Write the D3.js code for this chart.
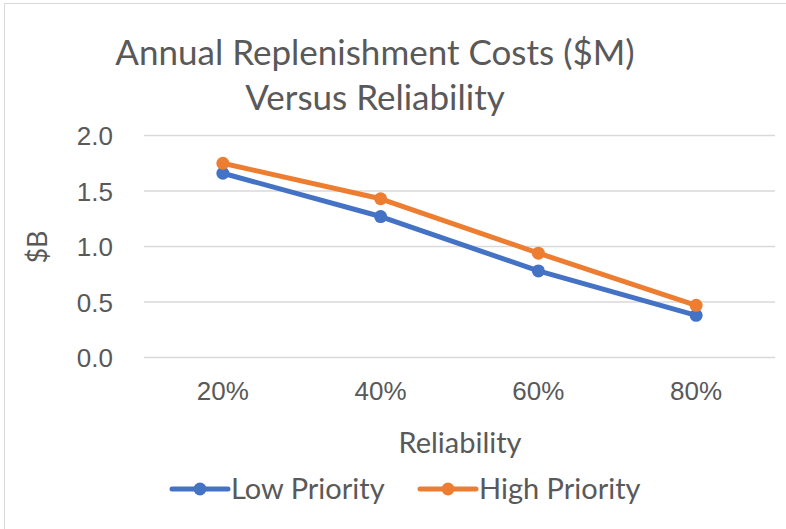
<!DOCTYPE html>
<html lang="en">
<head>
<meta charset="UTF-8">
<title>Annual Replenishment Costs</title>
<script src="https://d3js.org/d3.v7.min.js"></script>
<style>
    body { margin: 0; padding: 0; background: #fff; }
    svg { display: block; font-family: Lato, "Open Sans", sans-serif; }
    .tick text { fill: #595959; }
</style>
</head>
<body>
<svg id="chart" width="786" height="529"></svg>
<script>
// chart data
const categories = ["20%", "40%", "60%", "80%"];
const lowPriority = [1.66, 1.27, 0.78, 0.38];
const highPriority = [1.75, 1.43, 0.94, 0.47];
const yTicks = [0, 0.5, 1.0, 1.5, 2.0];
const seriesNames = ["Low Priority", "High Priority"];
const seriesColors = ["#4472C4", "#ED7D31"];

const svg = d3.select('#chart');
const textColor = "#595959";

// outer frame of the chart
svg.append('rect')
    .attr('x', 4.5).attr('y', 3.5)
    .attr('width', 800).attr('height', 540)
    .attr('fill', 'none')
    .attr('stroke', '#d9d9d9');

const margin = { left: 144, right: 11, top: 135.5, bottom: 171.5 };
const width = 786 - margin.left - margin.right;
const height = 529 - margin.top - margin.bottom;

const g = svg.append('g').attr('transform', `translate(${margin.left},${margin.top})`);

const x = d3.scaleBand().domain(categories).range([0, width]);
const y = d3.scaleLinear().domain([0, 2]).range([height, 0]);

// gridlines
g.selectAll('.grid')
    .data(yTicks)
    .enter().append('line')
    .attr('class', 'grid')
    .attr('x1', 0).attr('x2', width)
    .attr('y1', d => y(d)).attr('y2', d => y(d))
    .attr('stroke', '#d9d9d9')
    .attr('stroke-width', 1.5);

// y axis labels
const yAxis = g.append('g')
    .call(d3.axisLeft(y).tickValues(yTicks).tickFormat(d3.format('.1f')).tickSize(0).tickPadding(31));
yAxis.select('.domain').remove();
yAxis.selectAll('text').style('font-size', '26px').attr('dy', '0.35em');

// x axis labels
const xAxis = g.append('g')
    .attr('transform', `translate(0,${height})`)
    .call(d3.axisBottom(x).tickSize(0).tickPadding(33));
xAxis.select('.domain').remove();
xAxis.selectAll('text').style('font-size', '26px').attr('dy', '0.35em');

// titles
svg.append('text')
    .attr('x', 375).attr('y', 65)
    .attr('text-anchor', 'middle')
    .attr('fill', textColor)
    .style('font-size', '35px')
    .text('Annual Replenishment Costs ($M)');
svg.append('text')
    .attr('x', 375).attr('y', 110)
    .attr('text-anchor', 'middle')
    .attr('fill', textColor)
    .style('font-size', '35px')
    .text('Versus Reliability');

svg.append('text')
    .attr('transform', 'translate(47,247) rotate(-90)')
    .attr('text-anchor', 'middle')
    .attr('fill', textColor)
    .style('font-size', '27px')
    .text('$B');

svg.append('text')
    .attr('x', 460).attr('y', 453)
    .attr('text-anchor', 'middle')
    .attr('fill', textColor)
    .style('font-size', '29px')
    .text('Reliability');

// series lines and markers
const line = d3.line()
    .x((d, i) => x(categories[i]) + x.bandwidth() / 2)
    .y(d => y(d));

[lowPriority, highPriority].forEach((values, s) => {
    g.append('path')
        .datum(values)
        .attr('fill', 'none')
        .attr('stroke', seriesColors[s])
        .attr('stroke-width', 5)
        .attr('stroke-linejoin', 'round')
        .attr('d', line);
    g.selectAll('.pt' + s)
        .data(values)
        .enter().append('circle')
        .attr('class', 'pt' + s)
        .attr('cx', (d, i) => x(categories[i]) + x.bandwidth() / 2)
        .attr('cy', d => y(d))
        .attr('r', 6.5)
        .attr('fill', seriesColors[s]);
});

// legend
const legendX = [172, 420];
seriesNames.forEach((name, s) => {
    const lg = svg.append('g').attr('transform', `translate(${legendX[s]},489)`);
    lg.append('line')
        .attr('x1', 0).attr('x2', 56)
        .attr('stroke', seriesColors[s])
        .attr('stroke-width', 5)
        .attr('stroke-linecap', 'round');
    lg.append('circle').attr('cx', 28).attr('r', 6.5).attr('fill', seriesColors[s]);
    lg.append('text')
        .attr('x', 59).attr('dy', '0.35em')
        .attr('fill', textColor)
        .style('font-size', '29px')
        .text(name);
});
</script>
</body>
</html>
